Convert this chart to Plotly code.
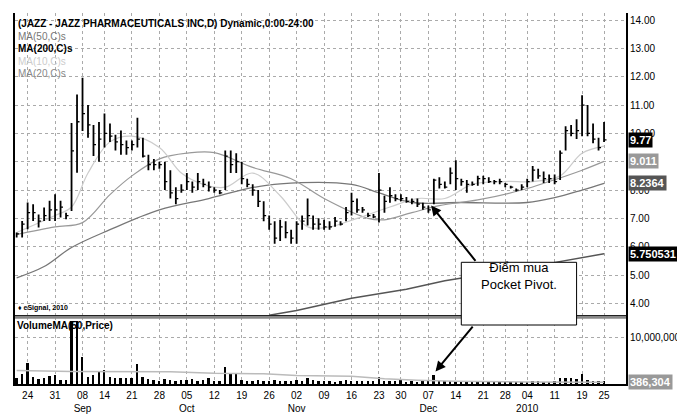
import pandas as pd
import plotly.graph_objects as go

holidays = ["2009-09-07", "2009-11-26", "2009-12-25", "2010-01-01", "2010-01-18"]
dates = [d for d in pd.bdate_range("2009-08-20", "2010-01-25") if d.strftime("%Y-%m-%d") not in holidays]

high = [6.50,6.91,7.56,7.50,7.14,7.38,7.62,7.85,7.62,7.20,10.37,11.37,11.96,11.0,10.3,10.4,10.7,10.35,9.95,10.1,
        9.75,9.75,10.55,9.85,9.25,9.1,9.0,9.0,8.7,8.1,8.2,8.6,8.3,8.6,8.4,8.3,8.1,8.0,9.4,9.4,
        9.3,9.0,8.4,8.2,8.0,7.6,7.1,6.9,6.95,6.9,6.6,6.9,7.1,7.7,7.1,7.0,6.95,6.9,7.05,6.9,
        7.4,7.9,7.7,7.4,7.2,7.15,8.6,7.8,8.1,7.85,7.85,7.75,7.7,7.7,7.55,7.45,8.4,8.45,8.3,8.8,
        9.05,8.4,8.35,8.3,8.5,8.5,8.45,8.35,8.4,8.25,8.15,8.05,8.2,8.4,8.85,8.75,8.65,8.55,8.55,9.4,
        10.25,10.3,10.5,11.35,11.0,10.35,9.85,10.4]
low = [6.32,6.32,6.62,6.91,6.68,6.91,6.91,6.91,7.03,6.97,7.26,8.61,10.08,9.85,9.2,9.0,9.5,9.7,9.4,9.25,
       9.25,9.4,9.5,9.15,8.7,8.7,8.75,8.0,7.7,7.5,7.9,8.0,7.9,8.0,8.1,7.95,7.9,7.85,8.0,8.6,
       8.6,8.2,8.1,7.8,7.4,6.9,6.6,6.1,6.2,6.3,6.1,6.1,6.6,6.75,6.6,6.6,6.6,6.6,6.7,6.75,
       6.9,7.1,7.2,7.2,7.05,7.0,6.85,7.2,7.55,7.6,7.6,7.55,7.5,7.4,7.3,7.2,7.5,8.05,8.05,8.2,
       8.0,8.15,7.9,8.15,8.15,8.2,8.25,8.2,8.2,8.1,8.05,7.95,8.0,8.1,8.3,8.4,8.25,8.25,8.2,8.35,
       9.4,9.9,9.8,9.9,9.9,9.65,9.4,9.7]
close = [6.45,6.8,7.2,7.2,6.9,7.1,7.3,7.3,7.4,7.1,9.38,10.41,10.7,10.3,9.6,9.8,10.0,9.9,9.7,9.6,
         9.5,9.6,9.8,9.2,8.9,8.9,8.9,8.3,7.9,7.7,8.0,8.3,8.1,8.3,8.2,8.1,8.0,7.9,9.2,8.9,
         9.0,8.4,8.2,8.0,7.6,7.1,6.8,6.3,6.7,6.5,6.3,6.8,6.9,7.1,6.8,6.8,6.7,6.7,6.9,6.8,
         7.2,7.6,7.3,7.3,7.1,7.05,8.0,7.6,7.8,7.7,7.7,7.6,7.6,7.5,7.4,7.3,8.35,8.2,8.1,8.6,
         8.4,8.3,8.2,8.2,8.4,8.4,8.3,8.3,8.3,8.2,8.1,8.0,8.1,8.3,8.7,8.5,8.4,8.4,8.3,9.3,
         10.1,10.0,10.1,11.0,10.0,9.8,9.5,9.77]
volume = [1.2,2.0,4.4,1.5,1.1,1.3,1.6,1.8,0.9,0.8,13.5,13.5,5.8,1.4,1.9,2.5,3.0,1.4,1.2,1.3,
          1.2,1.3,4.3,1.5,1.0,0.9,0.7,1.1,0.9,0.7,0.9,0.8,1.1,0.7,0.8,1.2,0.6,0.7,3.5,2.0,
          2.0,0.9,0.7,0.6,0.8,0.7,0.5,0.8,0.7,0.6,0.7,0.8,0.5,1.3,0.9,0.6,0.7,0.5,0.4,0.6,
          0.8,0.6,0.5,0.7,0.5,0.6,1.5,0.6,0.5,0.7,0.9,0.4,0.5,0.4,0.6,0.5,1.9,0.6,0.5,0.7,
          0.6,0.5,0.5,0.4,0.5,0.6,0.5,0.4,0.4,0.3,0.3,0.4,0.3,0.4,0.5,0.5,0.4,0.4,0.5,1.2,
          1.3,1.2,1.0,2.0,0.9,0.7,0.6,0.5]

ma10_d = ["2009-08-20","2009-08-31","2009-09-03","2009-09-09","2009-09-15","2009-09-21","2009-09-28","2009-10-02","2009-10-08","2009-10-14","2009-10-21","2009-10-28","2009-11-04","2009-11-10","2009-11-17","2009-11-25","2009-12-03","2009-12-10","2009-12-17","2009-12-28","2010-01-05","2010-01-12","2010-01-19","2010-01-25"]
ma10_v = [6.5,7.1,7.4,8.6,9.7,9.9,9.5,8.6,8.2,8.1,8.6,7.8,6.7,6.7,7.0,7.4,7.7,7.7,8.2,8.3,8.3,8.5,9.3,9.55]
ma20_d = ["2009-08-20","2009-08-31","2009-09-08","2009-09-15","2009-09-21","2009-09-28","2009-10-05","2009-10-12","2009-10-21","2009-10-30","2009-11-09","2009-11-19","2009-11-24","2009-12-02","2009-12-09","2009-12-18","2009-12-31","2010-01-08","2010-01-19","2010-01-25"]
ma20_v = [6.43,6.7,6.85,7.84,8.5,9.1,9.3,9.32,8.8,8.4,7.7,7.0,6.95,7.2,7.45,7.65,8.0,8.3,8.7,9.011]
ma50_d = ["2009-08-20","2009-08-27","2009-09-03","2009-09-15","2009-09-28","2009-10-09","2009-10-20","2009-10-28","2009-11-16","2009-11-23","2009-12-02","2009-12-15","2010-01-04","2010-01-11","2010-01-19","2010-01-25"]
ma50_v = [4.9,5.3,5.97,6.6,7.3,7.7,8.05,8.22,8.2,7.9,7.56,7.56,7.56,7.73,8.0,8.2364]
ma200_d = ["2009-10-26","2009-11-02","2009-11-16","2009-12-01","2009-12-10","2010-01-04","2010-01-25"]
ma200_v = [3.58,3.75,4.18,4.5,4.8,5.27,5.750531]
vma_d = ["2009-08-20","2009-09-03","2009-09-30","2009-10-12","2009-10-23","2009-11-02","2009-11-16","2009-11-24","2009-12-03","2009-12-14","2010-01-04","2010-01-25"]
vma_v = [2.9,2.7,2.6,2.3,2.2,1.8,1.65,1.1,0.8,0.6,0.45,0.386304]

tick_dates = ["2009-08-24","2009-08-31","2009-09-08","2009-09-14","2009-09-21","2009-09-28","2009-10-05","2009-10-12","2009-10-19","2009-10-26","2009-11-02","2009-11-09","2009-11-16","2009-11-23","2009-11-30","2009-12-07","2009-12-14","2009-12-21","2009-12-28","2010-01-04","2010-01-11","2010-01-19","2010-01-25"]
tick_text = ["24","31","08<br>Sep","14","21","28","05<br>Oct","12","19","26","02<br>Nov","09","16","23","30","07<br>Dec","14","21","28","04<br>2010","11","19","25"]

idx = {d.strftime("%Y-%m-%d"): i for i, d in enumerate(dates)}
def xi(ds): return [idx[d] for d in ds]

bx, by, cx, cy = [], [], [], []
for i, (h, l, c) in enumerate(zip(high, low, close)):
    bx += [i, i, None]; by += [l, h, None]
    cx += [i, i + 0.45, None]; cy += [c, c, None]

fig = go.Figure()
fig.add_trace(go.Scatter(x=xi(ma200_d), y=ma200_v, mode="lines", line=dict(color="#555", width=1.5)))
fig.add_trace(go.Scatter(x=xi(ma50_d), y=ma50_v, mode="lines", line=dict(color="#777", width=1.3), line_shape="spline"))
fig.add_trace(go.Scatter(x=xi(ma20_d), y=ma20_v, mode="lines", line=dict(color="#999", width=1.2), line_shape="spline"))
fig.add_trace(go.Scatter(x=xi(ma10_d), y=ma10_v, mode="lines", line=dict(color="#ccc", width=1.2), line_shape="spline"))
fig.add_trace(go.Scatter(x=bx, y=by, mode="lines", line=dict(color="black", width=1.8)))
fig.add_trace(go.Scatter(x=cx, y=cy, mode="lines", line=dict(color="black", width=1.3)))
fig.add_trace(go.Bar(x=list(range(len(volume))), y=volume, width=0.35, marker=dict(color="black", line_width=0), yaxis="y2"))
fig.add_trace(go.Scatter(x=xi(vma_d), y=vma_v, mode="lines", line=dict(color="#bbb", width=1.5), yaxis="y2"))

grid = dict(showgrid=True, gridcolor="#aaa", griddash="dot", gridwidth=1)
font_ax = dict(family="Liberation Sans Narrow, Arial Narrow, Liberation Sans, sans-serif", size=10, color="black")
fig.update_layout(
    width=685, height=414, margin=dict(l=5, r=67, t=5, b=38),
    paper_bgcolor="white", plot_bgcolor="white", showlegend=False, bargap=0,
    xaxis=dict(range=[-0.3, 111], tickvals=xi(tick_dates), ticktext=tick_text, ticks="", ticklabelstandoff=1,
               tickfont=font_ax, zeroline=False, showline=True, linecolor="black", linewidth=2, mirror=True,
               anchor="y2", **grid),
    yaxis=dict(domain=[0.18, 1], range=[3.51, 14.25], side="right", tickvals=list(range(4, 15)),
               ticktext=[f"{v}.00" for v in range(4, 15)], tickfont=font_ax, ticks="",
               showline=True, linecolor="black", linewidth=2, mirror=True, zeroline=False, **grid),
    yaxis2=dict(domain=[0, 0.18], range=[0, 14.3], side="right", tickvals=[10], ticktext=["10,000,000"],
                tickfont=font_ax, ticks="", showline=True, linecolor="black", linewidth=2, mirror=True,
                zeroline=False, **grid),
)

fig.add_shape(type="line", xref="paper", yref="paper", x0=0, x1=1, y0=0.18, y1=0.18, line=dict(color="#888", width=3))

hf = dict(family="Liberation Sans, Arial, sans-serif", size=10)
labels = [("(JAZZ - JAZZ PHARMACEUTICALS INC,D) Dynamic,0:00-24:00", "black", 0.992),
          ("MA(50,C)s", "#777", 0.958), ("MA(200,C)s", "black", 0.924),
          ("MA(10,C)s", "#ccc", 0.890), ("MA(20,C)s", "#888", 0.856)]
for t, c, y in labels:
    fig.add_annotation(text=("<b>%s</b>" % t) if c == "black" else t, xref="paper", yref="paper", x=0.002, y=y,
                       xanchor="left", yanchor="top", showarrow=False, font=dict(color=c, **hf))
fig.add_annotation(text="<b>♦ eSignal, 2010</b>", xref="paper", yref="paper", x=0.002, y=0.19,
                   xanchor="left", yanchor="bottom", showarrow=False, font=dict(color="black", family=hf["family"], size=7))
fig.add_annotation(text="<b>VolumeMA(50,Price)</b>", xref="paper", yref="paper", x=0.0, y=0.178,
                   xanchor="left", yanchor="top", showarrow=False, font=dict(color="black", **hf))

tags = [(close[-1], "y", "%.2f" % close[-1], "black"), (ma20_v[-1], "y", "9.011", "#999"),
        (ma50_v[-1], "y", "8.2364", "#555"), (ma200_v[-1], "y", "5.750531", "black"),
        (vma_v[-1], "y2", "386,304", "#999")]
for v, yr, t, bg in tags:
    fig.add_annotation(text="<b>%s</b>" % t, xref="paper", yref=yr, x=1.003, y=v, xanchor="left", showarrow=False,
                       bgcolor=bg, font=dict(color="white", family=font_ax["family"], size=11), borderpad=1)

pp = idx["2009-12-08"]
fig.add_shape(type="rect", xref="x", yref="paper", x0=81, x1=102, y0=0.159, y1=0.328,
              line=dict(color="black", width=1), fillcolor="white", layer="above")
fig.add_annotation(text="Điểm mua<br>Pocket Pivot.", xref="x", yref="paper", x=91.5, y=0.243, showarrow=False,
                   font=dict(family="Liberation Sans, Arial, sans-serif", size=13, color="black"))
fig.add_annotation(x=pp - 0.5, y=low[pp] - 0.05, xref="x", yref="y", ax=83.8, ay=5.45, axref="x", ayref="y",
                   text="", showarrow=True, arrowhead=2, arrowsize=1, arrowwidth=2, arrowcolor="black")
fig.add_annotation(x=pp + 0.3, y=volume[pp] + 0.8, xref="x", yref="y2", ax=83.3, ay=12.6, axref="x", ayref="y2",
                   text="", showarrow=True, arrowhead=2, arrowsize=1, arrowwidth=2, arrowcolor="black")

fig.write_html("out.html")
